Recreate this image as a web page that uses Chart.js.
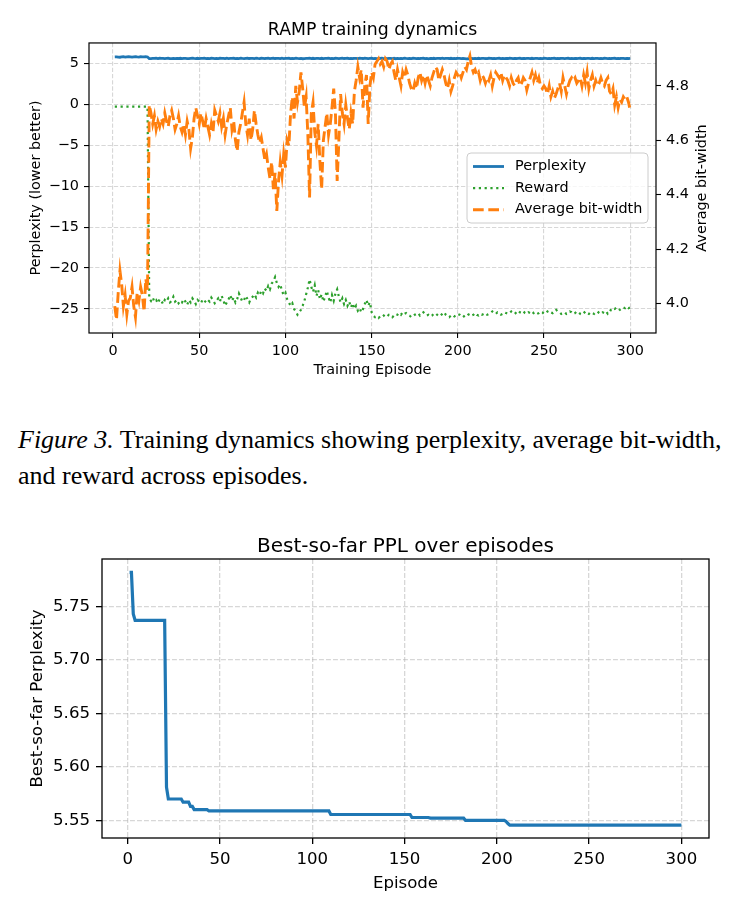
<!DOCTYPE html>
<html>
<head>
<meta charset="utf-8">
<script src="https://cdn.jsdelivr.net/npm/chart.js@4.4.0/dist/chart.umd.min.js"></script>
<style>
  html, body { margin: 0; padding: 0; background: #fff; }
  body { width: 738px; height: 910px; position: relative; overflow: hidden; }
  #dynWrap { position: absolute; left: 0; top: 0; width: 738px; height: 390px; }
  #bestWrap { position: absolute; left: 0; top: 520px; width: 738px; height: 390px; }
  .caption { position: absolute; left: 18px; font-family: 'Liberation Serif', 'Times New Roman', serif;
             font-size: 26px; color: #000; white-space: nowrap; line-height: 1; }
</style>
</head>
<body>
<div id="dynWrap"><canvas id="dynamicsChart" width="738" height="390"></canvas></div>
<div class="caption" style="top: 427px;"><i>Figure 3.</i> Training dynamics showing perplexity, average bit-width,</div>
<div class="caption" style="top: 463px;">and reward across episodes.</div>
<div id="bestWrap"><canvas id="bestChart" width="738" height="390"></canvas></div>

<script>
// episodes 1..300
const episodes = Array.from({ length: 300 }, (_, i) => i + 1);
const xTicks = [0, 50, 100, 150, 200, 250, 300];
const pplTicks = [-25, -20, -15, -10, -5, 0, 5];
const bitTicks = [4.0, 4.2, 4.4, 4.6, 4.8];
const bestTicks = [5.55, 5.60, 5.65, 5.70, 5.75];

const perplexity = [
  5.782,5.79,5.743,5.737,5.77,5.80,5.76,5.79,5.81,5.78,5.75,5.79,5.80,5.77,5.76,5.80,5.79,5.78,5.81,5.77,
  5.581,5.570,5.60,5.59,5.62,5.58,5.61,5.59,5.60,5.567,5.59,5.61,5.58,5.563,5.60,5.560,5.59,5.58,5.61,5.57,
  5.60,5.59,5.58,5.5585,5.60,5.62,5.59,5.57,5.61,5.58,5.60,5.59,5.62,5.57,5.60,5.58,5.61,5.59,5.57,5.60,
  5.58,5.61,5.59,5.60,5.57,5.62,5.58,5.60,5.59,5.61,5.57,5.60,5.58,5.62,5.59,5.57,5.60,5.61,5.58,5.59,
  5.60,5.58,5.62,5.59,5.57,5.61,5.60,5.58,5.59,5.62,5.57,5.60,5.61,5.58,5.59,5.60,5.57,5.62,5.58,5.60,
  5.59,5.61,5.57,5.60,5.58,5.62,5.59,5.57,5.60,5.5555,5.58,5.60,5.59,5.62,5.57,5.61,5.58,5.60,5.59,5.57,
  5.61,5.58,5.60,5.59,5.62,5.57,5.60,5.58,5.61,5.59,5.57,5.60,5.62,5.58,5.59,5.61,5.57,5.60,5.58,5.59,
  5.60,5.57,5.61,5.59,5.58,5.62,5.60,5.57,5.59,5.61,5.58,5.60,5.57,5.5525,5.59,5.61,5.58,5.60,5.57,5.59,
  5.60,5.58,5.61,5.5522,5.59,5.57,5.60,5.58,5.62,5.59,5.57,5.60,5.58,5.61,5.59,5.57,5.60,5.58,5.59,5.61,
  5.57,5.60,5.550,5.59,5.58,5.61,5.57,5.60,5.59,5.58,5.62,5.57,5.60,5.59,5.58,5.61,5.57,5.60,5.58,5.59,
  5.60,5.57,5.59,5.58,5.548,5.56,5.5455,5.59,5.57,5.60,5.58,5.61,5.57,5.59,5.60,5.58,5.57,5.61,5.59,5.58,
  5.60,5.57,5.59,5.61,5.58,5.60,5.57,5.59,5.58,5.61,5.60,5.57,5.59,5.58,5.60,5.61,5.57,5.59,5.58,5.60,
  5.59,5.57,5.61,5.58,5.60,5.59,5.57,5.60,5.58,5.61,5.59,5.57,5.60,5.58,5.59,5.61,5.57,5.60,5.58,5.59,
  5.60,5.57,5.59,5.61,5.58,5.60,5.57,5.59,5.58,5.60,5.61,5.57,5.59,5.58,5.60,5.59,5.57,5.61,5.58,5.60,
  5.59,5.57,5.60,5.58,5.61,5.59,5.57,5.60,5.58,5.59,5.61,5.57,5.60,5.58,5.59,5.60,5.57,5.59,5.58,5.60
];

const reward = [
  -0.3,-0.3,-0.3,-0.3,-0.3,-0.3,-0.3,-0.3,-0.3,-0.3,-0.3,-0.3,-0.3,-0.3,-0.3,-0.3,-0.3,-0.3,-0.3,-0.3,
  -23.7,-24.0,-23.6,-24.1,-23.9,-24.3,-23.8,-24.0,-24.4,-23.9,-24.1,-23.7,-24.2,-24.0,-23.5,-24.1,-23.9,-24.3,-24.0,-24.2,
  -23.8,-24.1,-24.5,-23.9,-24.2,-23.7,-24.0,-24.4,-23.9,-24.1,-24.3,-23.8,-24.0,-24.2,-23.9,-24.1,-23.6,-23.9,-24.3,-24.0,
  -23.7,-24.1,-23.4,-23.9,-24.6,-24.2,-23.8,-23.3,-24.0,-23.6,-24.2,-23.8,-23.1,-23.6,-24.1,-23.9,-23.4,-23.8,-24.2,-23.7,
  -23.5,-23.2,-23.6,-23.0,-23.3,-22.8,-23.1,-22.5,-22.8,-22.2,-22.6,-21.9,-21.6,-21.1,-21.8,-22.3,-22.0,-22.8,-23.3,-23.0,
  -23.8,-24.2,-24.6,-24.3,-25.0,-25.3,-25.7,-25.4,-25.1,-24.6,-24.0,-23.2,-22.4,-21.4,-22.3,-22.9,-22.1,-23.4,-22.7,-23.8,
  -23.2,-24.1,-23.5,-22.8,-23.6,-24.2,-23.3,-24.0,-23.1,-22.6,-23.5,-24.2,-23.7,-24.4,-23.9,-24.6,-24.1,-24.8,-24.3,-25.0,
  -24.6,-25.2,-24.9,-25.4,-25.0,-24.4,-23.9,-24.6,-24.2,-25.4,-25.8,-26.0,-25.9,-26.1,-25.9,-26.0,-25.8,-26.0,-25.9,-25.7,
  -25.8,-26.0,-25.8,-25.6,-25.7,-25.5,-25.7,-25.4,-25.6,-25.5,-25.7,-25.8,-26.0,-25.9,-25.7,-25.6,-25.5,-25.8,-25.6,-25.4,
  -25.6,-25.8,-25.7,-25.9,-25.8,-25.6,-25.5,-25.7,-25.9,-25.8,-25.6,-25.4,-25.7,-25.9,-26.0,-25.8,-25.7,-25.9,-25.8,-25.6,
  -25.7,-25.9,-26.0,-25.8,-25.9,-25.7,-25.6,-25.8,-25.7,-25.5,-25.7,-25.8,-25.6,-25.7,-25.6,-25.5,-25.7,-25.6,-25.5,-25.3,
  -25.5,-25.6,-25.4,-25.5,-25.7,-25.6,-25.4,-25.5,-25.6,-25.5,-25.3,-25.5,-25.6,-25.4,-25.2,-25.4,-25.5,-25.3,-25.5,-25.6,
  -25.4,-25.5,-25.3,-25.5,-25.4,-25.6,-25.5,-25.3,-25.4,-25.6,-25.5,-25.3,-25.2,-25.4,-25.5,-25.3,-25.1,-25.3,-25.4,-25.6,
  -25.5,-25.4,-25.6,-25.5,-25.3,-25.4,-25.6,-25.5,-25.3,-25.4,-25.6,-25.7,-25.5,-25.3,-25.5,-25.6,-25.4,-25.5,-25.6,-25.4,
  -25.3,-25.5,-25.6,-25.4,-25.5,-25.3,-25.6,-25.4,-25.0,-24.9,-25.0,-24.8,-24.9,-25.1,-24.9,-24.8,-24.9,-24.7,-24.9,-24.8
];

const bitWidth = [
  3.99,3.94,4.04,4.12,4.07,3.99,4.03,3.96,4.01,4.02,4.06,3.99,3.95,4.04,4.01,4.06,4.03,3.97,4.09,4.05,
  4.73,4.70,4.66,4.69,4.64,4.67,4.65,4.68,4.66,4.70,4.67,4.65,4.69,4.71,4.68,4.64,4.66,4.69,4.65,4.63,
  4.66,4.62,4.67,4.64,4.57,4.61,4.68,4.72,4.69,4.66,4.70,4.67,4.64,4.68,4.65,4.62,4.66,4.63,4.71,4.69,
  4.67,4.70,4.65,4.68,4.62,4.66,4.69,4.72,4.64,4.67,4.60,4.56,4.63,4.66,4.70,4.74,4.66,4.62,4.68,4.60,
  4.64,4.71,4.66,4.62,4.59,4.61,4.57,4.53,4.55,4.50,4.46,4.52,4.42,4.48,4.34,4.45,4.52,4.47,4.55,4.50,
  4.60,4.58,4.70,4.76,4.68,4.80,4.74,4.78,4.85,4.79,4.72,4.76,4.62,4.39,4.70,4.74,4.63,4.58,4.66,4.52,
  4.42,4.60,4.65,4.70,4.62,4.66,4.72,4.79,4.70,4.45,4.60,4.77,4.70,4.66,4.73,4.68,4.64,4.70,4.66,4.78,
  4.82,4.87,4.83,4.86,4.72,4.80,4.84,4.66,4.80,4.85,4.83,4.88,4.89,4.90,4.88,4.89,4.87,4.90,4.89,4.86,
  4.88,4.89,4.85,4.82,4.86,4.83,4.80,4.85,4.83,4.86,4.84,4.81,4.79,4.78,4.81,4.79,4.83,4.85,4.82,4.84,
  4.81,4.84,4.82,4.80,4.83,4.85,4.87,4.86,4.82,4.84,4.86,4.84,4.81,4.79,4.82,4.78,4.80,4.83,4.85,4.84,
  4.85,4.83,4.85,4.87,4.86,4.89,4.91,4.87,4.85,4.86,4.84,4.85,4.82,4.84,4.83,4.81,4.83,4.82,4.84,4.80,
  4.83,4.85,4.84,4.83,4.85,4.82,4.84,4.83,4.82,4.80,4.83,4.81,4.80,4.82,4.83,4.80,4.81,4.83,4.82,4.785,
  4.81,4.83,4.85,4.82,4.84,4.81,4.83,4.80,4.79,4.80,4.79,4.77,4.80,4.76,4.78,4.755,4.77,4.79,4.81,4.78,
  4.83,4.80,4.77,4.80,4.82,4.83,4.82,4.83,4.81,4.82,4.83,4.80,4.84,4.81,4.85,4.79,4.82,4.84,4.80,4.82,
  4.80,4.81,4.83,4.81,4.80,4.82,4.83,4.78,4.77,4.79,4.73,4.76,4.72,4.75,4.74,4.76,4.75,4.76,4.74,4.71
];

// best-so-far perplexity, read at the episodes where it changes
const bestEpisodes = [1, 2, 3, 4, 20, 21, 22, 29, 30, 33, 34, 35, 36, 43, 44, 109, 110, 153, 154, 163, 164, 182, 183, 204, 205, 206, 207, 300];
const bestPPL = [5.782, 5.782, 5.743, 5.737, 5.737, 5.581, 5.570, 5.570, 5.567, 5.567, 5.563, 5.563, 5.560, 5.560,
                 5.5588, 5.5588, 5.5555, 5.5555, 5.5527, 5.5527, 5.5520, 5.5520, 5.5500, 5.5500, 5.5490, 5.5470, 5.5455, 5.5455];

const BLUE = '#1f77b4', ORANGE = '#ff7f0e', GREEN = '#2ca02c';
const GRID = 'rgba(176,176,176,0.5)';

Chart.defaults.font.family = "'DejaVu Sans', sans-serif";
Chart.defaults.color = '#000';
Chart.defaults.animation = false;

const toXY = (xs, ys) => xs.map((x, i) => ({ x: x, y: ys[i] }));
const minus = v => (v < 0 ? '\u2212' + Math.abs(v) : String(v));
const setTicks = list => scale => { scale.ticks = list.map(v => ({ value: v })); };

// box around the plot area, like matplotlib spines
const frame = {
  id: 'frame',
  afterDatasetsDraw(chart, args, opts) {
    const { ctx, chartArea: a } = chart;
    ctx.save();
    ctx.strokeStyle = '#000';
    ctx.lineWidth = opts.width || 1.2;
    ctx.strokeRect(a.left, a.top, a.right - a.left, a.bottom - a.top);
    ctx.restore();
  }
};

// right axis label reads bottom-to-top, as in matplotlib
const rightLabel = {
  id: 'rightLabel',
  afterDraw(chart, args, opts) {
    const { ctx, chartArea: a } = chart;
    ctx.save();
    ctx.translate(opts.x, (a.top + a.bottom) / 2);
    ctx.rotate(-Math.PI / 2);
    ctx.font = "14.4px 'DejaVu Sans', sans-serif";
    ctx.fillStyle = '#000';
    ctx.textAlign = 'center';
    ctx.textBaseline = 'middle';
    ctx.fillText(opts.text, 0, 0);
    ctx.restore();
  }
};

// legend drawn inside the plot, right side
const insideLegend = {
  id: 'insideLegend',
  afterDraw(chart) {
    const { ctx, chartArea: a } = chart;
    const w = 181, h = 70;
    const x0 = a.right - 8 - w, y0 = 153;
    ctx.save();
    ctx.beginPath();
    ctx.roundRect(x0, y0, w, h, 4);
    ctx.fillStyle = 'rgba(255,255,255,0.8)';
    ctx.fill();
    ctx.strokeStyle = '#cccccc';
    ctx.lineWidth = 1;
    ctx.stroke();
    ctx.font = "14.4px 'DejaVu Sans', sans-serif";
    ctx.textBaseline = 'middle';
    ctx.fillStyle = '#000';
    chart.data.datasets.forEach((ds, i) => {
      const y = y0 + 13.5 + i * 21.6;
      ctx.beginPath();
      ctx.setLineDash(ds.borderDash || []);
      ctx.strokeStyle = ds.borderColor;
      ctx.lineWidth = ds.borderWidth;
      ctx.moveTo(x0 + 6, y);
      ctx.lineTo(x0 + 37, y);
      ctx.stroke();
      ctx.setLineDash([]);
      ctx.fillText(ds.label, x0 + 48, y);
    });
    ctx.restore();
  }
};

new Chart(document.getElementById('dynamicsChart'), {
  type: 'line',
  data: {
    datasets: [
      { label: 'Perplexity', data: toXY(episodes, perplexity), yAxisID: 'y', order: 3,
        borderColor: BLUE, borderWidth: 2.8, pointRadius: 0, fill: false },
      { label: 'Reward', data: toXY(episodes, reward), yAxisID: 'y', order: 2,
        borderColor: GREEN, borderWidth: 2.2, borderDash: [2.2, 3.6], pointRadius: 0, fill: false },
      { label: 'Average bit-width', data: toXY(episodes, bitWidth), yAxisID: 'y1', order: 1,
        borderColor: ORANGE, borderWidth: 2.9, borderDash: [10.7, 4.6], pointRadius: 0, fill: false }
    ]
  },
  options: {
    responsive: false,
    layout: { padding: 0 },
    plugins: {
      legend: { display: false },
      tooltip: { enabled: false },
      title: { display: true, text: 'RAMP training dynamics', fullSize: false,
               font: { size: 17.3, weight: 'normal' }, color: '#000', padding: { top: 20.4, bottom: 1.8 } },
      frame: { width: 1.2 },
      rightLabel: { text: 'Average bit-width', x: 702 }
    },
    scales: {
      x: {
        type: 'linear', min: -13.95, max: 314.95,
        afterBuildTicks: setTicks(xTicks),
        afterFit: s => { s.height = 57; },
        ticks: { font: { size: 14.4 }, padding: 5, maxRotation: 0, autoSkip: false, callback: v => minus(v) },
        grid: { color: GRID, lineWidth: 1.1, tickColor: '#000', tickLength: 5, tickWidth: 1.1 },
        border: { display: false, dash: [4.3, 1.9] },
        title: { display: true, text: 'Training Episode', font: { size: 14.4 }, padding: { top: 0, bottom: 11 } }
      },
      y: {
        type: 'linear', position: 'left', min: -27.93, max: 7.48,
        afterBuildTicks: setTicks(pplTicks),
        afterFit: s => { s.width = 89; },
        ticks: { font: { size: 14.4 }, padding: 5, autoSkip: false, callback: v => minus(v) },
        grid: { color: GRID, lineWidth: 1.1, tickColor: '#000', tickLength: 5, tickWidth: 1.1 },
        border: { display: false, dash: [4.3, 1.9] },
        title: { display: true, text: 'Perplexity (lower better)', font: { size: 14.4 }, padding: { top: 27.4, bottom: 0 } }
      },
      y1: {
        type: 'linear', position: 'right', min: 3.891, max: 4.958,
        afterBuildTicks: setTicks(bitTicks),
        afterFit: s => { s.width = 82; },
        ticks: { font: { size: 14.4 }, padding: 5, autoSkip: false, callback: v => v.toFixed(1) },
        grid: { drawOnChartArea: false, tickColor: '#000', tickLength: 5, tickWidth: 1.1 },
        border: { display: false },
        title: { display: false }
      }
    }
  },
  plugins: [frame, rightLabel, insideLegend]
});

new Chart(document.getElementById('bestChart'), {
  type: 'line',
  data: {
    datasets: [
      { label: 'Best-so-far PPL', data: toXY(bestEpisodes, bestPPL),
        borderColor: BLUE, borderWidth: 3.2, pointRadius: 0, fill: false }
    ]
  },
  options: {
    responsive: false,
    layout: { padding: { right: 29 } },
    plugins: {
      legend: { display: false },
      tooltip: { enabled: false },
      title: { display: true, text: 'Best-so-far PPL over episodes', fullSize: false,
               font: { size: 20, weight: 'normal' }, color: '#000', padding: { top: 15, bottom: 0 } },
      frame: { width: 1.3 }
    },
    scales: {
      x: {
        type: 'linear', min: -13.95, max: 314.95,
        afterBuildTicks: setTicks(xTicks),
        afterFit: s => { s.height = 72; },
        ticks: { font: { size: 16.6 }, padding: 6, maxRotation: 0, autoSkip: false, callback: v => String(v) },
        grid: { color: GRID, lineWidth: 1.3, tickColor: '#000', tickLength: 6, tickWidth: 1.3 },
        border: { display: false, dash: [4.9, 2.1] },
        title: { display: true, text: 'Episode', font: { size: 16.6 }, padding: { top: 0, bottom: 16 } }
      },
      y: {
        type: 'linear', min: 5.5335, max: 5.7945,
        afterBuildTicks: setTicks(bestTicks),
        afterFit: s => { s.width = 102; },
        ticks: { font: { size: 16.6 }, padding: 6, autoSkip: false, callback: v => v.toFixed(2) },
        grid: { color: GRID, lineWidth: 1.3, tickColor: '#000', tickLength: 6, tickWidth: 1.3 },
        border: { display: false, dash: [4.9, 2.1] },
        title: { display: true, text: 'Best-so-far Perplexity', font: { size: 16.6 }, padding: { top: 28, bottom: 0 } }
      }
    }
  },
  plugins: [frame]
});
</script>
</body>
</html>
